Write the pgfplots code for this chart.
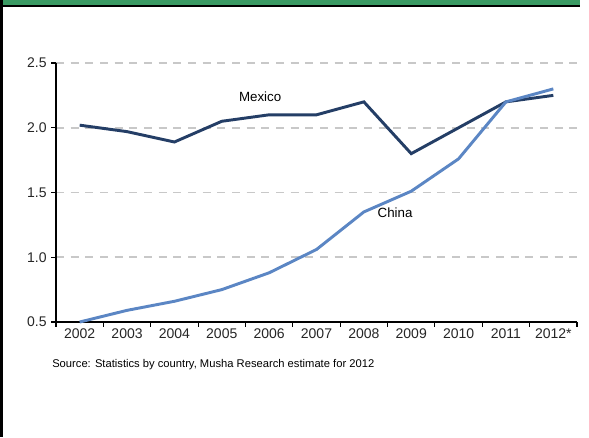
\documentclass[border=0pt]{standalone}
\usepackage{pgfplots}
\pgfplotsset{compat=1.18}
\usepackage{fontspec}
\setmainfont{Liberation Sans}
\definecolor{mex}{HTML}{243E66}
\definecolor{chn}{HTML}{5B86C4}
\definecolor{grn}{HTML}{3A9A63}
\definecolor{gridc}{HTML}{C8C8C8}
\begin{document}
\begin{tikzpicture}
\fill[white] (0pt,0pt) rectangle (441.75pt,327.75pt);
\fill[grn] (0pt,327.75pt) rectangle (435pt,324pt);
\fill[black] (0pt,324pt) rectangle (435pt,322.5pt);
\fill[black] (0pt,0pt) rectangle (2.25pt,327.75pt);
\begin{axis}[
  at={(42pt,86.25pt)}, anchor=south west,
  scale only axis, width=390.75pt, height=194.25pt,
  xmin=-0.5, xmax=10.5, ymin=0.5, ymax=2.5,
  axis x line=bottom, axis y line=left,
  axis line style={-, black, line width=1pt},
  xtick={-0.5,0.5,...,10.5},
  xticklabels={},
  x tick style={black, line width=0.8pt},
  extra x ticks={0,1,2,3,4,5,6,7,8,9,10},
  extra x tick labels={2002,2003,2004,2005,2006,2007,2008,2009,2010,2011,2012*},
  extra x tick style={grid=none, major tick length=0pt, tick style={draw=none}},
  ytick={0.5,1.0,...,2.5},
  y tick style={black, line width=0.8pt},
  major tick length=3.5pt,
  tick align=outside,
  ymajorgrids,
  major grid style={gridc, dash pattern=on 6pt off 5pt, line width=1.2pt},
  yticklabel style={/pgf/number format/.cd, fixed, fixed zerofill, precision=1, assume math mode=true},
  ticklabel style={font=\fontsize{10.5}{12}\selectfont, color=black!85},
  xticklabel style={yshift=-1.5pt},
  clip=false,
]
\addplot[mex, line width=2.2pt] coordinates {
(0,2.02) (1,1.97) (2,1.89) (3,2.05) (4,2.10) (5,2.10) (6,2.20) (7,1.80) (8,2.00) (9,2.20) (10,2.25)};
\addplot[chn, line width=2.2pt] coordinates {
(0,0.50) (1,0.59) (2,0.66) (3,0.75) (4,0.88) (5,1.06) (6,1.35) (7,1.51) (8,1.76) (9,2.20) (10,2.30)};
\node[font=\fontsize{10}{12}\selectfont] at (axis cs:3.81,2.237) {Mexico};
\node[font=\fontsize{10}{12}\selectfont] at (axis cs:6.66,1.342) {China};
\end{axis}
\node[anchor=west, inner sep=0pt, font=\fontsize{8.4}{10}\selectfont] at (39pt,54pt) {Source: Statistics by country, Musha Research estimate for 2012};
\end{tikzpicture}
\end{document}
